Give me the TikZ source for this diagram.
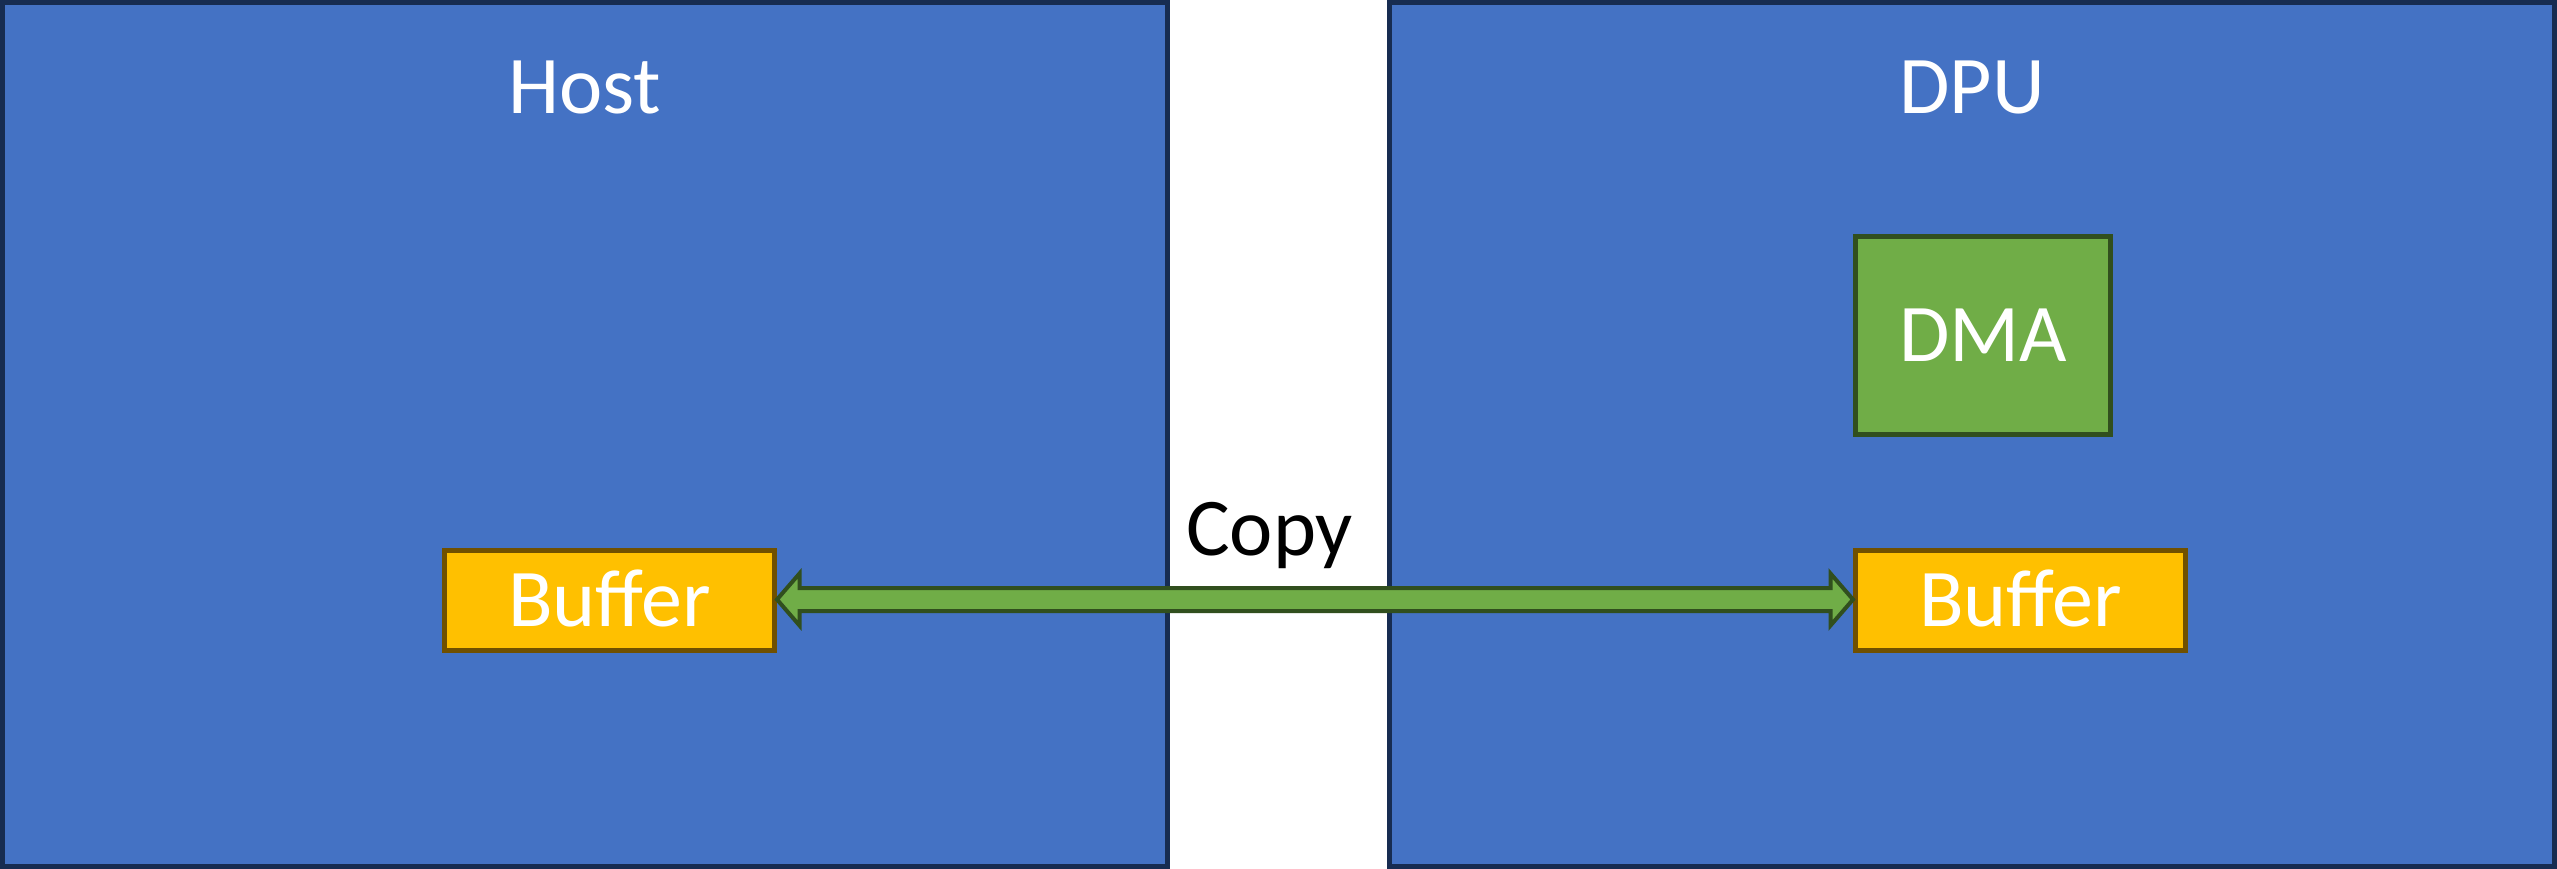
\documentclass[tikz,border=0pt]{standalone}
\usepackage{fontspec}
\setmainfont{Carlito}
\usetikzlibrary{calc}
\definecolor{boxblue}{HTML}{4472C4}
\definecolor{boxblueline}{HTML}{172C51}
\definecolor{bufgold}{HTML}{FFC000}
\definecolor{bufline}{HTML}{705000}
\definecolor{dmagreen}{HTML}{70AD47}
\definecolor{dmaline}{HTML}{314F1E}
\tikzset{
  bigbox/.style={draw=boxblueline, fill=boxblue, line width=5pt, inner sep=0pt,
    minimum width=1165pt, minimum height=864pt},
  bigfont/.style={font=\fontsize{82}{98}\selectfont},
  title/.style={bigfont, text=white, inner sep=0pt, anchor=base},
  bufbox/.style={draw=bufline, fill=bufgold, line width=5pt, inner sep=0pt,
    minimum width=330pt, minimum height=100pt, bigfont, text=white,
    text height=52pt, text depth=0pt},
  dmabox/.style={draw=dmaline, fill=dmagreen, line width=5pt, inner sep=0pt,
    minimum width=255pt, minimum height=198pt, bigfont, text=white,
    text height=52pt, text depth=0pt},
  copyarrow/.style={draw=dmaline, fill=dmagreen, line width=4pt, line join=miter},
  copylabel/.style={bigfont, text=black, inner sep=0pt, anchor=base}
}
\begin{document}
\begin{tikzpicture}[x=1pt, y=-1pt]
\useasboundingbox (0,0) rectangle (2557,869);
\fill[white] (0,0) rectangle (2557,869);
\node[bigbox] (host) at (585,434.5) {};
\node[bigbox] (dpu) at (1972,434.5) {};
\node[title] (hosttitle) at (585,114) {Host};
\node[title] (dputitle) at (1972,114) {DPU};
\node[dmabox] (dma) at (1983,335.5) {DMA};
\node[bufbox] (hb) at (609.5,600.5) {Buffer};
\node[bufbox] (db) at (2020.5,600.5) {Buffer};
\node[copylabel] (copy) at (1269.5,555) {Copy};
\draw[copyarrow]
  ($(hb.east)+(0,-1)$) -- ($(hb.east)+(22.5,-27)$) -- ($(hb.east)+(22.5,-12.5)$)
  -- ($(db.west)+(-22.5,-12.5)$) -- ($(db.west)+(-22.5,-27)$) -- ($(db.west)+(0,-1)$)
  -- ($(db.west)+(-22.5,25)$) -- ($(db.west)+(-22.5,10.5)$)
  -- ($(hb.east)+(22.5,10.5)$) -- ($(hb.east)+(22.5,25)$) -- cycle;
\end{tikzpicture}
\end{document}
